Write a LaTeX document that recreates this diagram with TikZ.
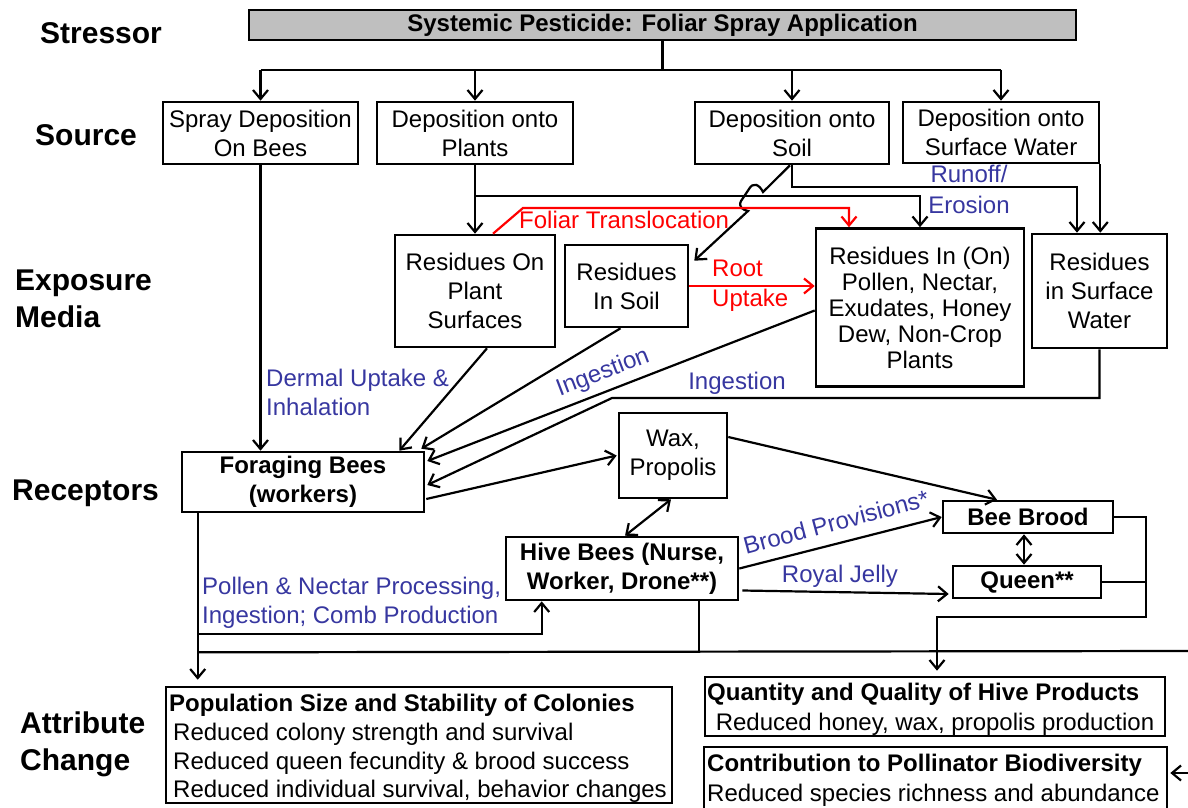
\documentclass[tikz,border=0pt]{standalone}
\usepackage{fontspec}
\setmainfont{Liberation Sans}
\usetikzlibrary{arrows.meta,calc}
\definecolor{lblue}{RGB}{55,55,160}
\definecolor{boxgray}{RGB}{191,191,191}
\begin{document}
\begin{tikzpicture}[x=1pt,y=-1pt,
  box/.style={draw,line width=2.6pt,inner sep=0pt,align=center,font=\fontsize{24}{29}\selectfont},
  bbox/.style={box,font=\fontsize{24}{29}\selectfont\bfseries},
  side/.style={font=\fontsize{30}{37}\selectfont\bfseries,align=left,inner sep=0pt},
  conn/.style={line width=2.2pt,-{Straight Barb[length=9pt,width=15pt]}},
  plain/.style={line width=2.2pt},
  dbl/.style={line width=2.2pt,{Straight Barb[length=9pt,width=15pt]}-{Straight Barb[length=9pt,width=15pt]}},
  blab/.style={text=lblue,font=\fontsize{24}{29}\selectfont,inner sep=0pt,align=left},
  rlab/.style={text=red,font=\fontsize{24}{30}\selectfont,inner sep=0pt,align=left},
  txt/.style={font=\fontsize{24}{29}\selectfont,inner sep=0pt,anchor=base west},
  btxt/.style={txt,font=\fontsize{24}{29}\selectfont\bfseries},
]
\clip (0,0) rectangle (1188,808);

% side labels
\node[side,anchor=west] (lstress) at (40,33) {Stressor};
\node[side,anchor=west] (lsource) at (35,135) {Source};
\node[side,anchor=west] (lexp) at (15,299) {Exposure\\Media};
\node[side,anchor=west] (lrec) at (12,493) {Receptors};
\node[side,anchor=west] (lattr) at (20,744) {Attribute\\Change};

% stressor
\node[box,fill=boxgray,font=\fontsize{24}{29}\selectfont\bfseries,minimum width=827pt,minimum height=30pt] (stressor) at (662.5,25) {Systemic Pesticide: Foliar Spray Application};

% sources
\node[box,minimum width=195pt,minimum height=62pt] (spray) at (260.5,133) {Spray Deposition\\On Bees};
\node[box,minimum width=196pt,minimum height=62pt] (plants) at (475,133) {Deposition onto\\Plants};
\node[box,minimum width=194pt,minimum height=62pt] (soil) at (792,133) {Deposition onto\\Soil};
\node[box,minimum width=196pt,minimum height=61pt] (water) at (1001,132.5) {Deposition onto\\Surface Water};

% exposure media
\node[box,minimum width=160pt,minimum height=112pt] (rplant) at (475,291) {Residues On\\Plant\\Surfaces};
\node[box,minimum width=123pt,minimum height=82pt] (rsoil) at (626.5,286) {Residues\\In Soil};
\node[box,minimum width=208pt,minimum height=158pt,font=\fontsize{24}{26}\selectfont] (rpollen) at (920,307.5) {Residues In (On)\\Pollen, Nectar,\\Exudates, Honey\\Dew, Non-Crop\\Plants};
\node[box,minimum width=135pt,minimum height=114pt] (rwater) at (1099.5,291) {Residues\\in Surface\\Water};

% receptors
\node[bbox,minimum width=242pt,minimum height=60pt] (forage) at (303,482) {Foraging Bees\\(workers)};
\node[box,minimum width=108pt,minimum height=85pt] (wax) at (673,455.5) {Wax,\\Propolis};
\node[bbox,minimum width=232pt,minimum height=63pt] (hive) at (622,568.5) {Hive Bees (Nurse,\\Worker, Drone**)};
\node[bbox,minimum width=170pt,minimum height=32pt] (brood) at (1028,517) {Bee Brood};
\node[bbox,minimum width=148pt,minimum height=32pt] (queen) at (1027,582) {Queen**};

% attribute change
\node[box,minimum width=506pt,minimum height=116pt] (pop) at (419,745) {};
\node[btxt] (pop1) at (169,711) {Population Size and Stability of Colonies};
\node[txt] (pop2) at (173,740) {Reduced colony strength and survival};
\node[txt] (pop3) at (173,769) {Reduced queen fecundity \& brood success};
\node[txt] (pop4) at (173,797) {Reduced individual survival, behavior changes};
\node[box,minimum width=460pt,minimum height=59pt] (hp) at (935,706.5) {};
\node[btxt] (hp1) at (707,700) {Quantity and Quality of Hive Products};
\node[txt,anchor=base] (hp2) at (935,730) {Reduced honey, wax, propolis production};
\node[box,minimum width=463pt,minimum height=90pt] (bio) at (935.5,792) {};
\node[btxt] (bio1) at (707,771) {Contribution to Pollinator Biodiversity};
\node[txt] (bio2) at (707,801) {Reduced species richness and abundance};

% stressor -> sources
\coordinate (j) at (662.5,70);
\draw[plain] (stressor.south) -- (j);
\draw[plain] (spray.north |- j) -- (water.north |- j);
\foreach \n in {spray,plants,soil,water} \draw[conn] (\n.north |- j) -- (\n.north);

% sources -> exposure
\coordinate (pb) at (475,196);
\draw[conn] (plants.south) -- (rplant.north);
\draw[conn] (pb) -| (rpollen.north);
\draw[conn] (soil.south) -- ++(0,22) -| ($(rwater.north)+(-22.5,0)$);
\draw[conn] (water.south east) -- (water.south east |- rwater.north);
\draw[conn] ($(soil.south)+(-2,0)$) -- (763,192) .. controls (759,184) and (753,182) .. (749,189) -- (741,201) .. controls (738,207) and (743,210) .. (748,211) -- ($(rsoil.north east)+(5,17)$);

% red translocation / uptake
\draw[red,conn] ($(rplant.north)+(18,0)$) -- (523,208) -| ($(rpollen.north)+(-71,0)$);
\node[rlab,anchor=west] (foliar) at (519,220) {Foliar Translocation};
\draw[red,conn] (rsoil.east) -- (rsoil.east -| rpollen.west);
\node[rlab,anchor=west] (root) at (712,286) {Root\\Uptake};
\node[blab,align=center,font=\fontsize{24}{31}\selectfont] (runoff) at (969,189) {Runoff/\\Erosion};

% exposure -> receptors
\draw[conn] (spray.south) -- (spray.south |- forage.north);
\node[blab,anchor=west] (dermal) at (266,392.5) {Dermal Uptake \&\\Inhalation};
\draw[conn] ($(rplant.south)+(12,0)$) -- ($(forage.north east)+(-26,0)$);
\draw[conn] ($(rsoil.south)+(-6,0)$) -- ($(forage.north east)+(-4,-2)$);
\draw[conn] ($(rpollen.west)+(0,3)$) -- ($(forage.east)+(2,-21)$);
\node[blab,rotate=21] (ing1) at (603,373) {Ingestion};
\draw[conn] (rwater.south) -- (1099.5,398) -- (612,398) -- ($(forage.east)+(2,3)$);
\node[blab] (ing2) at (737,383) {Ingestion};

% receptors
\draw[conn] ($(forage.east)+(1,17)$) -- ($(wax.west)+(-1,0)$);
\draw[dbl] ($(wax.south)+(-2,0)$) -- ($(hive.north)+(3,0)$);
\draw[conn] ($(wax.east)+(0,-18.5)$) -- ($(brood.north)+(-31,0)$);
\draw[conn] (hive.east) -- (brood.west);
\node[blab,rotate=15] (prov) at (836,522) {Brood Provisions*};
\draw[conn] ($(hive.east)+(3,22)$) -- ($(queen.west)+(-3,12)$);
\node[blab] (rj) at (840,576) {Royal Jelly};
\draw[dbl] ($(brood.south)+(-4,0)$) -- ($(queen.north)+(-3,0)$);
\coordinate (rbus) at (1146,617);
\draw[conn] (brood.east) -| (rbus) -| ($(hp.north)+(2,-5)$);
\draw[plain] (queen.east) -- (queen.east -| rbus);

% to attribute change
\draw[conn] ($(forage.south west)+(17,0)$) |- ($(hive.south west)+(37,33)$) -- ($(hive.south west)+(37,0)$);
\node[blab,anchor=west] (pnp) at (202,602.5) {Pollen \& Nectar Processing,\\Ingestion; Comb Production};
\draw[conn] ($(forage.south west)+(17,0)$) -- ($(pop.north west)+(33,-6)$);
\coordinate (bus) at (1190,651);
\draw[plain] ($(forage.south west)+(17,139)$) -- (bus);
\draw[plain] ($(hive.south)+(77,0)$) -- ++(0,51);
\coordinate (bin) at (1190,773);
\draw[conn] (bin) -- ($(bio.east)+(2,-19)$);
\end{tikzpicture}
\end{document}
